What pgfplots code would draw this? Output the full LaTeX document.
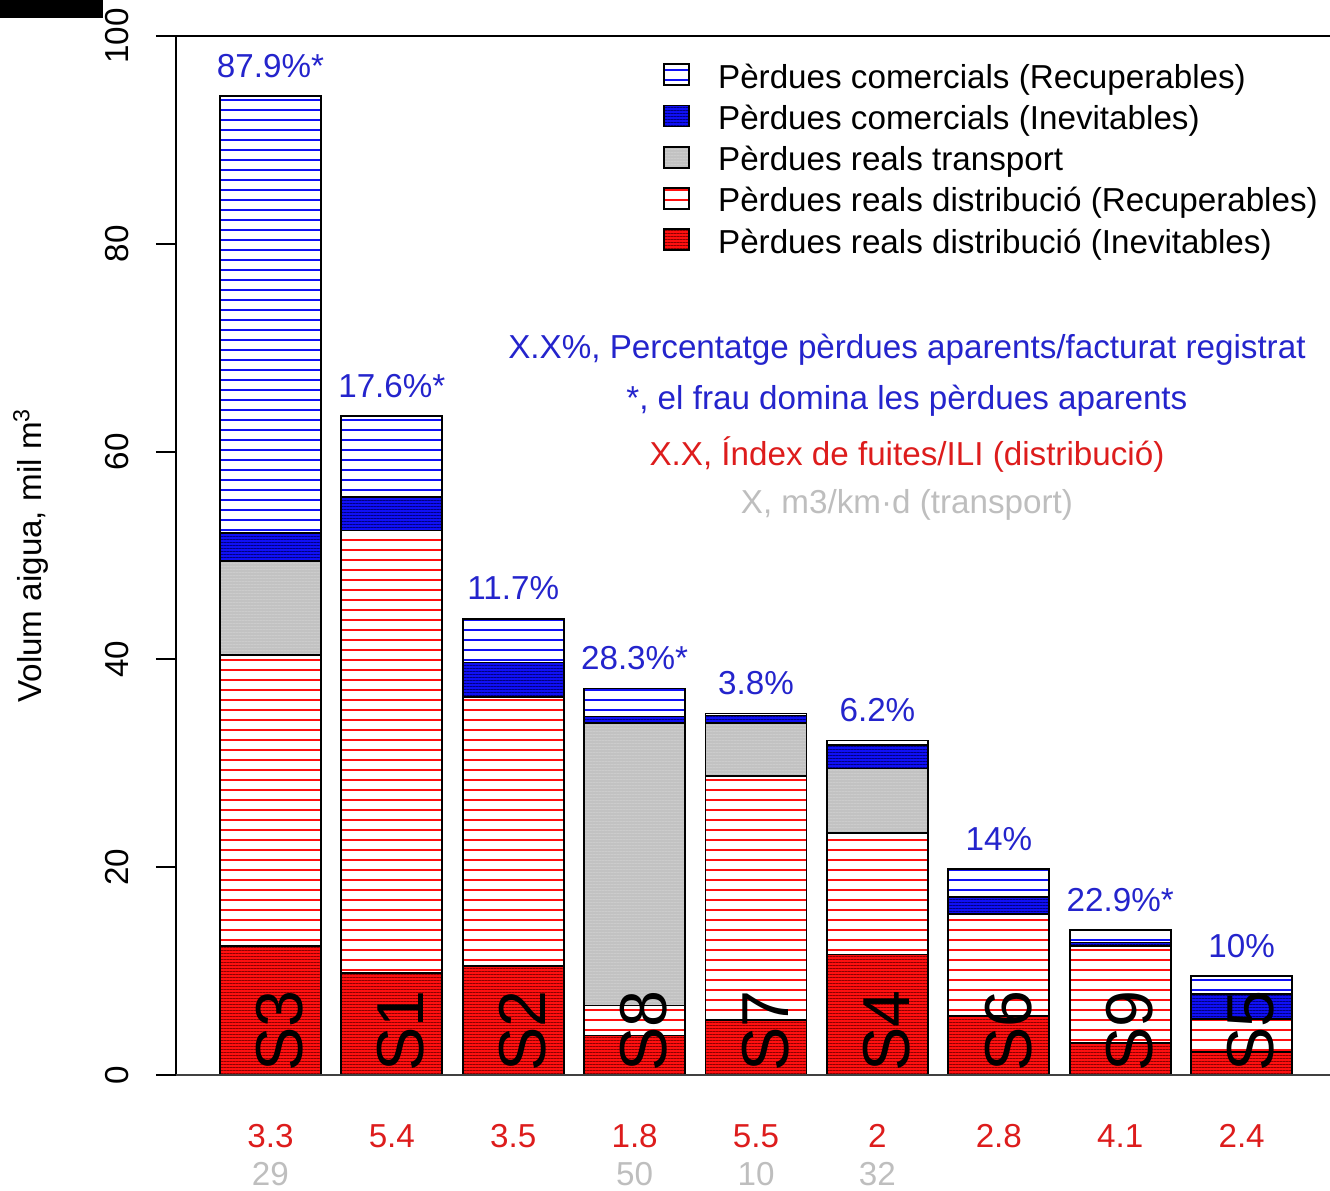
\documentclass[border=0pt]{standalone}
\usepackage{pgfplots}
\pgfplotsset{compat=1.18}
\usepackage{pgfplotstable}
\usepackage{fontspec}
\setmainfont{Liberation Sans}
\usetikzlibrary{patterns.meta}
\definecolor{rred}{HTML}{FF1010}
\definecolor{rblue}{HTML}{1010F5}
\definecolor{rgray}{HTML}{C2C2C2}
\definecolor{tblue}{HTML}{2424CC}
\definecolor{tred}{HTML}{DD1C1C}
\definecolor{tgray}{HTML}{BEBEBE}

\pgfplotstableread{
x rs rh tr cs ch
0 12.4 28.0 9.1 2.7 42.0
1 9.8 42.6 0 3.2 7.8
2 10.5 25.9 0 3.3 4.2
3 3.8 2.9 27.2 0.6 2.7
4 5.3 23.5 5.1 0.7 0.2
5 11.6 11.7 6.2 2.3 0.4
6 5.7 9.8 0 1.6 2.7
7 3.1 9.3 0 0.35 1.2
8 2.2 3.2 0 2.4 1.7
}\losses

\tikzset{pct/.style={anchor=base, text=tblue, inner sep=0pt},
  sname/.style={rotate=90, anchor=base west, inner sep=0pt, font=\fontsize{33.2}{40}\selectfont},
  ili/.style={anchor=base, text=tred, inner sep=0pt},
  trn/.style={anchor=base, text=tgray, inner sep=0pt}}

\pgfplotsset{frame/.style={width=577pt, height=519.5pt, scale only axis,
  xmin=-0.778, xmax=8.728, ymin=0, ymax=100, clip=false}}

\begin{document}
\begin{tikzpicture}[font=\fontsize{16.6}{19.9}\selectfont]
\begin{axis}[
  frame,
  ybar stacked, bar width=0.832,
  axis x line=none,
  axis y line=left,
  axis line style={-, line width=1pt},
  ytick={0,20,...,100},
  tick align=outside,
  major tick length=10pt,
  tick style={black, line width=1pt},
  yticklabel style={rotate=90, anchor=south, inner sep=0pt},
  yticklabel shift=13.5pt,
  /pgf/number format/assume math mode=true,
  ylabel={Volum aigua, mil m\textsuperscript{3}},
  every axis y label/.style={at={(axis description cs:-0.1161,0.5)}, rotate=90, anchor=base},
  reverse legend,
  legend cell align=left,
  legend style={at={(axis cs:3.233,97.4)}, anchor=north west, draw=none, fill=none,
    inner sep=0pt, row sep=4.15pt,
    nodes={inner sep=0pt, text height=12pt, text depth=4pt},
    /tikz/every odd column/.append style={column sep=14pt}},
  legend image code/.code={\draw[#1, line width=0.9pt] (0pt,-2.5pt) rectangle (12.5pt,8pt);},
]
\addplot[fill=rred, draw=black, line width=0.9pt,
  postaction={pattern={Lines[angle=0,distance=1.5pt,line width=0.3pt]}, pattern color=red!55!black}]
  table[x=x, y=rs] {\losses};
\addlegendentry{Pèrdues reals distribució (Inevitables)}
\addplot[draw=black, line width=0.9pt,
  pattern={Lines[angle=0,distance=5pt,line width=1.1pt]}, pattern color=rred]
  table[x=x, y=rh] {\losses};
\addlegendentry{Pèrdues reals distribució (Recuperables)}
\addplot[fill=rgray, draw=black, line width=0.9pt,
  postaction={pattern={Lines[angle=0,distance=1.5pt,line width=0.3pt]}, pattern color=black!20}]
  table[x=x, y=tr] {\losses};
\addlegendentry{Pèrdues reals transport}
\addplot[fill=rblue, draw=black, line width=0.9pt,
  postaction={pattern={Lines[angle=0,distance=1.5pt,line width=0.3pt]}, pattern color=blue!50!black}]
  table[x=x, y=cs] {\losses};
\addlegendentry{Pèrdues comercials (Inevitables)}
\addplot[draw=black, line width=0.9pt,
  pattern={Lines[angle=0,distance=5pt,line width=1.1pt]}, pattern color=rblue]
  table[x=x, y=ch] {\losses};
\addlegendentry{Pèrdues comercials (Recuperables)}
\coordinate (BL) at (rel axis cs:-0.1525,-0.11068);
\coordinate (TR) at (rel axis cs:1,1.03465);
\end{axis}

\begin{axis}[frame, hide axis]
\draw[line width=1pt] (rel axis cs:0,1) -- (rel axis cs:1,1);
\draw[line width=1pt, black!75] (rel axis cs:0,0) -- (rel axis cs:1,0);
% percentages above bars
\node[pct] at (axis cs:0,96.03) {87.9\%*};
\node[pct] at (axis cs:1,65.23) {17.6\%*};
\node[pct] at (axis cs:2,45.73) {11.7\%};
\node[pct] at (axis cs:3,39.03) {28.3\%*};
\node[pct] at (axis cs:4,36.63) {3.8\%};
\node[pct] at (axis cs:5,34.03) {6.2\%};
\node[pct] at (axis cs:6,21.63) {14\%};
\node[pct] at (axis cs:7,15.78) {22.9\%*};
\node[pct] at (axis cs:8,11.33) {10\%};
% station names inside bars
\node[sname] at (axis cs:0.265,0.3) {S3};
\node[sname] at (axis cs:1.265,0.3) {S1};
\node[sname] at (axis cs:2.265,0.3) {S2};
\node[sname] at (axis cs:3.265,0.3) {S8};
\node[sname] at (axis cs:4.265,0.3) {S7};
\node[sname] at (axis cs:5.265,0.3) {S4};
\node[sname] at (axis cs:6.265,0.3) {S6};
\node[sname] at (axis cs:7.265,0.3) {S9};
\node[sname] at (axis cs:8.265,0.3) {S5};
% ILI values
\node[ili] at (axis cs:0,-6.93) {3.3};
\node[ili] at (axis cs:1,-6.93) {5.4};
\node[ili] at (axis cs:2,-6.93) {3.5};
\node[ili] at (axis cs:3,-6.93) {1.8};
\node[ili] at (axis cs:4,-6.93) {5.5};
\node[ili] at (axis cs:5,-6.93) {2};
\node[ili] at (axis cs:6,-6.93) {2.8};
\node[ili] at (axis cs:7,-6.93) {4.1};
\node[ili] at (axis cs:8,-6.93) {2.4};
% transport values
\node[trn] at (axis cs:0,-10.6) {29};
\node[trn] at (axis cs:3,-10.6) {50};
\node[trn] at (axis cs:4,-10.6) {10};
\node[trn] at (axis cs:5,-10.6) {32};
% notes
\node[anchor=base, text=tblue, inner sep=0pt] at (axis cs:5.243,69.0) {X.X\%, Percentatge pèrdues aparents/facturat registrat};
\node[anchor=base, text=tblue, inner sep=0pt] at (axis cs:5.243,64.1) {*, el frau domina les pèrdues aparents};
\node[anchor=base, text=tred, inner sep=0pt] at (axis cs:5.243,58.7) {X.X, Índex de fuites/ILI (distribució)};
\node[anchor=base, text=tgray, inner sep=0pt] at (axis cs:5.243,54.0) {X, m3/km·d (transport)};
\fill[black] (rel axis cs:-0.1525,1.03465) rectangle (rel axis cs:-0.0633,1.01733);
\end{axis}
\pgfresetboundingbox
\path (BL) rectangle (TR);
\end{tikzpicture}
\end{document}
